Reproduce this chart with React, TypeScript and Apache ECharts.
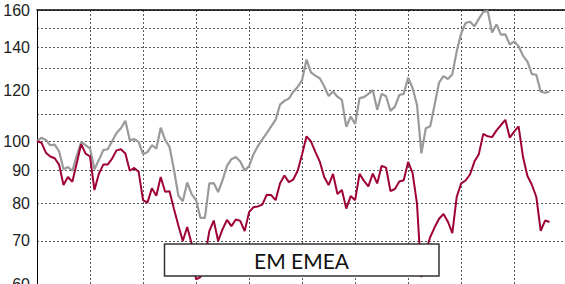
import { useEffect, useRef } from "react";
import * as echarts from "echarts";

// Tick labels shown on the (log) value axis
const yTickLabels = [60, 70, 80, 90, 100, 120, 140, 160];
// Horizontal dotted grid lines
const yGridValues = [60, 70, 80, 90, 100, 110, 120, 130, 140, 150, 160];

// Grey series (benchmark), monthly, rebased to 100
const benchmark = [
  100, 101.3, 100.5, 98.6, 98.8, 96.5, 90.5, 91.2, 90, 95,
  99.8, 98.6, 97.5, 90.5, 93.5, 96.9, 97.2, 100, 103, 104.8,
  107.6, 100.4, 100.8, 99.8, 95.5, 96.2, 98.6, 97.4, 105, 100.5,
  98, 90.3, 82.3, 80.7, 86.3, 82.8, 81, 76, 76, 86,
  86.1, 83.4, 87, 91.6, 93.8, 94.5, 93, 90.1, 91.5, 95.5,
  98.3, 100.7, 103, 105.5, 108, 114, 115.6, 116.5, 119.4, 121.5,
  124.5, 134, 128, 126.5, 125.3, 121.8, 117.6, 119.5, 117.3, 116,
  105.3, 109.3, 106.4, 116.7, 117.1, 118.5, 120.1, 112, 118.5, 117.5,
  111.5, 113.2, 118, 118.5, 125.6, 121, 114, 95.8, 104.8, 105.5,
  114.1, 123.4, 126.3, 125, 127.1, 138.1, 147.1, 152.7, 153.4, 150.9,
  155, 158.9, 159.6, 147.6, 152, 146.5, 146.6, 141.4, 143, 140.5,
  135.8, 133, 127.2, 126.9, 119.4, 119, 119.4,
];

// Crimson series (EM EMEA), monthly, rebased to 100
const emEmea = [
  100, 99.5, 96, 94.7, 94.1, 92, 85.5, 88, 86.5, 92.5,
  99, 95.7, 94.7, 84, 89, 92, 92, 94, 96.8, 97.2,
  95.7, 90, 90.9, 89.7, 81, 80.3, 84.5, 82.3, 88, 83.5,
  83.6, 78.5, 74, 70, 73.6, 69.3, 61, 61.5, 66, 72.5,
  75.3, 70, 73, 75.5, 73.8, 75.6, 75.2, 72.5, 77.6, 79,
  79.2, 79.7, 82.6, 82.5, 81, 86, 88.5, 86.4, 87.2, 90,
  95.5, 101.8, 100, 96.3, 93, 88, 85.5, 89, 82.8, 84,
  78.6, 82.2, 81, 89, 86.8, 85.1, 89.1, 86, 91.6, 91,
  83.7, 84.3, 86.6, 87, 92.9, 89.3, 80, 61.5, 67.5, 71,
  73.5, 75.8, 77.1, 75, 72, 82, 86, 86.9, 88.8, 93,
  95.5, 102.7, 101.8, 101.5, 104, 106, 108, 101.3, 103.5, 105.5,
  94.5, 88.3, 85.6, 82, 72.6, 75.3, 74.9,
];

const title = "EM EMEA";

export default function App() {
  const ref = useRef<HTMLDivElement>(null);

  useEffect(() => {
    if (!ref.current) return;
    const chart = echarts.init(ref.current, null, { renderer: "svg" });
    const dotted = { color: "#555", width: 1, type: [2, 2] as number[] };
    chart.setOption({
      animation: false,
      backgroundColor: "#fff",
      grid: {
        left: 37,
        right: 0,
        top: 10,
        bottom: 0,
        containLabel: false,
        outerBoundsMode: "none",
      },
      xAxis: {
        type: "value",
        position: "top",
        min: 0,
        max: 119.5,
        interval: 12,
        axisLine: { show: true, lineStyle: { color: "#000", width: 1.5 } },
        axisTick: { show: false },
        axisLabel: { show: false },
        splitLine: { show: true, lineStyle: dotted },
      },
      yAxis: {
        type: "log",
        logBase: 10,
        min: 60,
        max: 160,
        axisLine: { show: true, lineStyle: { color: "#000", width: 1 } },
        axisTick: { show: false, customValues: yGridValues },
        axisLabel: {
          customValues: yTickLabels,
          color: "#222",
          fontSize: 16,
          fontFamily: "'Liberation Sans', Arial, sans-serif",
          margin: 7,
          showMinLabel: true,
          showMaxLabel: true,
        },
        splitLine: { show: true, lineStyle: dotted },
      },
      series: [
        {
          name: "Benchmark",
          type: "line",
          data: benchmark.map((v, i) => [i, v]),
          showSymbol: false,
          symbol: "none",
          lineStyle: { color: "#9a9a9a", width: 2.2 },
          z: 2,
        },
        {
          name: title,
          type: "line",
          data: emEmea.map((v, i) => [i, v]),
          showSymbol: false,
          symbol: "none",
          lineStyle: { color: "#9e0039", width: 2 },
          z: 3,
        },
      ],
      graphic: [
        {
          type: "rect",
          z: 100,
          shape: { x: 164.5, y: 244, width: 274.5, height: 32 },
          style: { fill: "#fff", stroke: "#333", lineWidth: 1.5 },
        },
        {
          type: "text",
          z: 101,
          x: 301.5,
          y: 260.5,
          style: {
            text: title,
            fill: "#111",
            fontSize: 21,
            fontFamily: "Lato, 'Liberation Sans', sans-serif",
            align: "center",
            verticalAlign: "middle",
          },
        },
      ],
    });
    return () => chart.dispose();
  }, []);

  return (
    <div
      ref={ref}
      style={{ position: "fixed", left: 0, top: 0, width: 565, height: 284 }}
    />
  );
}
